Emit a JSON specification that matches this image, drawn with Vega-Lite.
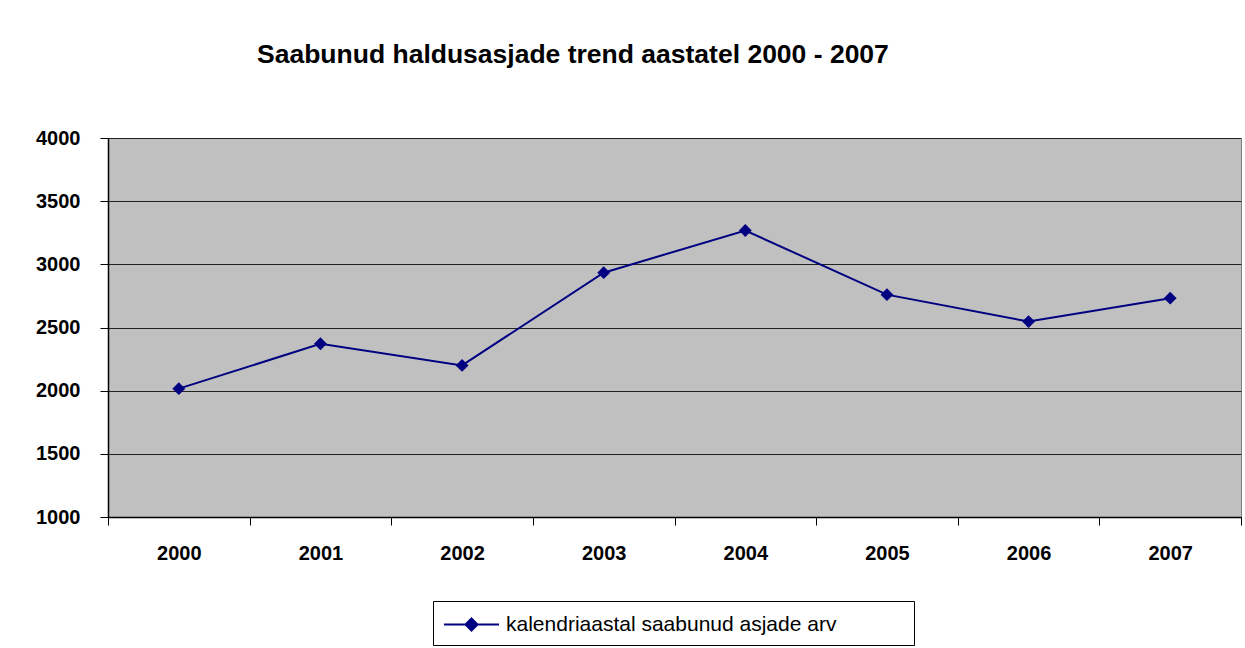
{
  "$schema": "https://vega.github.io/schema/vega-lite/v6.json",
  "width": 1133,
  "height": 379,
  "autosize": {"type": "none"},
  "padding": {"left": 108, "top": 138, "right": 4, "bottom": 131},
  "background": "#ffffff",
  "title": {
    "text": "Saabunud haldusasjade trend aastatel 2000 - 2007",
    "anchor": "start",
    "frame": "group",
    "dx": 149,
    "offset": 39,
    "baseline": "alphabetic",
    "font": "Liberation Sans",
    "fontSize": 26.5,
    "fontWeight": "bold",
    "color": "#000000"
  },
  "data": {
    "values": [
      {"aasta": "2000", "arv": 2016, "seeria": "kalendriaastal saabunud asjade arv"},
      {"aasta": "2001", "arv": 2371, "seeria": "kalendriaastal saabunud asjade arv"},
      {"aasta": "2002", "arv": 2200, "seeria": "kalendriaastal saabunud asjade arv"},
      {"aasta": "2003", "arv": 2934, "seeria": "kalendriaastal saabunud asjade arv"},
      {"aasta": "2004", "arv": 3268, "seeria": "kalendriaastal saabunud asjade arv"},
      {"aasta": "2005", "arv": 2760, "seeria": "kalendriaastal saabunud asjade arv"},
      {"aasta": "2006", "arv": 2547, "seeria": "kalendriaastal saabunud asjade arv"},
      {"aasta": "2007", "arv": 2732, "seeria": "kalendriaastal saabunud asjade arv"}
    ]
  },
  "config": {
    "view": {"fill": "#C0C0C0", "stroke": "#808080", "strokeWidth": 1},
    "font": "Liberation Sans"
  },
  "encoding": {
    "x": {
      "field": "aasta",
      "type": "ordinal",
      "scale": {"type": "band", "paddingInner": 0, "paddingOuter": 0},
      "axis": {
        "title": null,
        "labelAngle": 0,
        "labelFont": "Liberation Sans",
        "labelFontSize": 20,
        "labelFontWeight": "bold",
        "labelColor": "#000000",
        "labelPadding": 18,
        "tickBand": "extent",
        "tickSize": 8,
        "tickColor": "#000000",
        "domainColor": "#000000",
        "domainWidth": 1.5,
        "grid": false
      }
    },
    "y": {
      "field": "arv",
      "type": "quantitative",
      "scale": {"domain": [1000, 4000], "nice": false, "zero": false},
      "axis": {
        "title": null,
        "values": [1000, 1500, 2000, 2500, 3000, 3500, 4000],
        "format": "d",
        "labelFont": "Liberation Sans",
        "labelFontSize": 20,
        "labelFontWeight": "bold",
        "labelColor": "#000000",
        "labelPadding": 20,
        "tickSize": 8,
        "tickColor": "#000000",
        "domainColor": "#000000",
        "domainWidth": 1.5,
        "grid": true,
        "gridColor": "#222222",
        "gridWidth": 1,
        "gridOpacity": 1
      }
    },
    "color": {
      "field": "seeria",
      "type": "nominal",
      "scale": {"range": ["#000080"]},
      "legend": {
        "title": "\u00a0",
        "titleOrient": "right",
        "titlePadding": 68,
        "titleFontSize": 8,
        "orient": "none",
        "legendX": 325,
        "legendY": 463,
        "strokeColor": "#000000",
        "fillColor": "#ffffff",
        "padding": 10,
        "labelFont": "Liberation Sans",
        "labelFontSize": 21,
        "labelColor": "#000000",
        "labelLimit": 0,
        "labelOffset": 36,
        "symbolType": "M-1,0L3.4,0M1.2,-0.48L1.68,0L1.2,0.48L0.72,0Z",
        "symbolSize": 625,
        "symbolFillColor": "#000080",
        "symbolStrokeColor": "#000080",
        "symbolStrokeWidth": 2
      }
    }
  },
  "layer": [
    {"mark": {"type": "line", "strokeWidth": 2}},
    {"mark": {"type": "point", "shape": "diamond", "filled": true, "size": 165, "opacity": 1}}
  ]
}
